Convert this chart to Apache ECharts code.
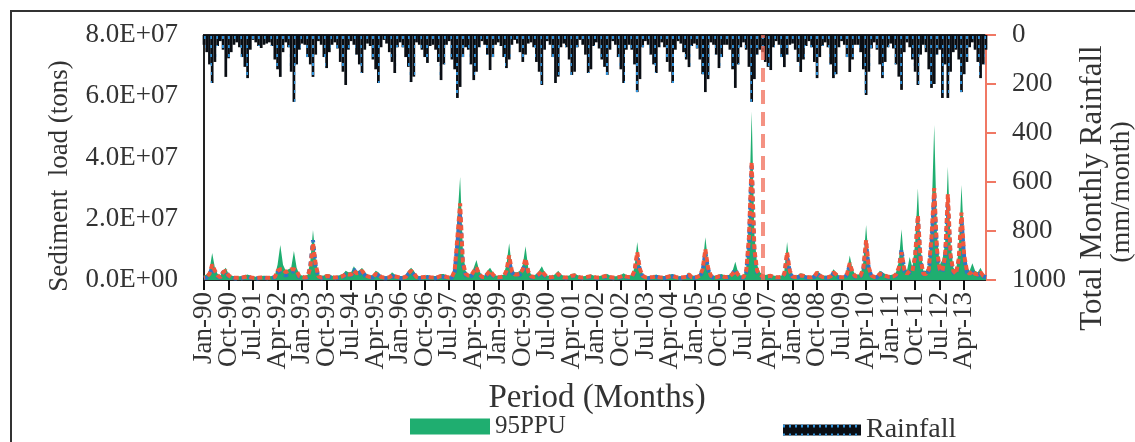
<!DOCTYPE html>
<html>
<head>
<meta charset="utf-8">
<script src="https://cdn.jsdelivr.net/npm/echarts@6/dist/echarts.min.js"></script>
<style>html,body{margin:0;padding:0;background:#fff;}#c{width:1135px;height:442px;}</style>
</head>
<body>
<div id="c"></div>
<script>
// ---- tick labels / categories ----
const MONTHS = ['Jan','Feb','Mar','Apr','May','Jun','Jul','Aug','Sep','Oct','Nov','Dec'];
const YEARS = ['90','91','92','93','94','95','96','97','98','99','00','01','02','03','04','05','06','07','08','09','10','11','12','13'];
const SED_TICKS = [0, 20, 40, 60, 80]; // million tons
const RAIN_TICKS = [0, 200, 400, 600, 800, 1000];
const LABEL_STEP = 9; // a month label every 9 months

// ---- Total monthly rainfall (mm/month), one row per year ----
const RAINFALL = [
  [40,70,120,196,110,45,25,60,171,95,70,40],
  [30,50,90,130,176,60,20,30,45,53,40,35],
  [30,45,100,140,171,70,30,50,150,273,120,60],
  [35,40,90,120,171,80,25,40,90,135,70,40],
  [30,55,110,150,204,60,25,40,80,120,155,60],
  [35,45,100,140,196,50,20,35,70,110,155,50],
  [30,50,90,130,192,170,30,40,60,90,114,45],
  [40,60,110,184,120,40,25,100,140,257,212,90],
  [50,60,120,184,150,50,25,40,80,143,90,40],
  [30,45,90,135,100,40,20,35,70,110,80,35],
  [30,50,110,150,204,60,25,40,90,196,170,50],
  [35,50,100,163,150,50,20,40,80,155,140,45],
  [30,55,100,130,163,60,25,40,90,140,196,60],
  [40,60,120,233,180,50,25,40,80,120,155,50],
  [30,50,110,150,196,60,25,35,70,100,131,45],
  [35,55,100,160,233,180,30,40,80,135,90,40],
  [40,60,140,216,120,50,30,60,130,273,180,80],
  [60,70,110,130,143,50,25,40,90,131,80,40],
  [35,60,110,151,100,45,25,50,110,176,90,45],
  [30,50,120,176,160,50,25,40,90,151,100,40],
  [40,70,140,245,150,55,30,60,120,176,110,50],
  [35,55,120,170,224,70,30,50,100,150,204,80],
  [40,70,140,216,200,80,60,257,120,257,150,70],
  [60,100,233,160,110,50,30,60,110,176,120,60]
];

// ---- 95PPU upper bound of sediment load (million tons) ----
const PPU95 = [
  [1.5,1.8,3,8.8,4,2,1.5,3,4,2,1.5,1.2],
  [1.2,1.2,1.3,1.5,1.8,1.4,1.2,1.1,1.2,1.3,1.4,1.2],
  [1.2,1.3,1.5,5,11.4,5,3,3.5,4,9.5,4,1.8],
  [1.5,1.3,1.6,6,16.3,7,2,1.4,1.5,2,1.8,1.4],
  [1.3,1.4,1.6,2,3,2.5,2.5,4.5,3,3,4,2.5],
  [1.8,1.5,1.6,3,2.5,1.5,1.2,1.2,1.3,2.5,1.8,1.4],
  [1.3,1.3,1.5,3,4,3,1.5,1.2,1.3,1.4,1.6,1.3],
  [1.3,1.3,1.5,2,2,1.5,1.2,1.5,4,20,33.6,10],
  [3,2,2,4,6.5,3,1.5,1.5,3,4,2.5,1.5],
  [1.4,1.5,1.8,5,12,4,2.5,2.5,3,5,11,4],
  [1.8,1.5,2,3,4.5,2.5,1.5,1.3,1.5,2,3,1.8],
  [1.4,1.3,1.5,2,2.2,1.6,1.3,1.2,1.3,1.6,1.8,1.5],
  [1.3,1.3,1.5,1.8,2,1.5,1.2,1.2,1.3,1.6,2.2,1.6],
  [1.5,1.6,4,12.4,5,2,1.3,1.2,1.3,1.5,1.8,1.4],
  [1.3,1.3,1.5,1.8,2,1.5,1.2,1.2,1.3,1.4,2.5,1.3],
  [1.4,1.5,2,5,14,6,2,1.4,1.4,1.8,2,1.5],
  [1.5,1.8,3,6,2.5,1.5,1.3,4,20,55,15,5],
  [2.5,1.8,1.6,1.8,2,1.5,1.3,1.3,1.5,3,12.4,4],
  [1.6,1.5,1.6,2.2,2,1.5,1.3,1.3,1.8,3,2.2,1.5],
  [1.4,1.4,1.8,3.5,2.5,1.5,1.3,1.3,3,8,3.5,1.8],
  [1.8,2,6,18,6,2,1.5,1.5,3,2.5,2,1.6],
  [1.6,1.8,2.5,6,16.6,5,3,7.5,4,12,30,10],
  [3,3,5,20,50.6,15,5,6.5,12,37,12,4],
  [3,10,31,12,4,3,5.5,3,2.5,4,2,1.5]
];

// ---- Observed sediment load (million tons) ----
const OBSERVED = [
  [0.8,1,2,5,3,1.5,0.8,2.5,3,1.5,1,0.8],
  [0.7,0.7,0.8,1,1.2,0.9,0.7,0.6,0.7,0.8,0.9,0.7],
  [0.7,0.8,1,3,3.5,3.5,2.5,3,3.5,3.5,3,1.2],
  [1,0.8,1,4,12,5,1.2,0.8,0.9,1.3,1.2,0.9],
  [0.8,0.9,1,1.3,2,1.8,1.8,3,2.2,2.3,3,1.8],
  [1.2,1,1,2,1.8,1,0.8,0.8,0.9,1.5,1.2,1],
  [0.8,0.8,1,2.2,3,2.2,1,0.8,0.9,1,1.1,0.9],
  [0.8,0.8,1,1.3,1.3,1,0.8,1,3,14,25,6],
  [2,1.5,1.5,2.8,4,2,1,1,2,3,1.8,1],
  [0.9,1,1.2,3,8,2.8,1.8,1.8,2,3.5,7,2.8],
  [1.2,1,1.3,2,3,1.8,1,0.9,1,1.4,2,1.2],
  [0.9,0.8,1,1.4,1.5,1.1,0.9,0.8,0.9,1.1,1.2,1],
  [0.8,0.8,1,1.2,1.4,1,0.8,0.8,0.9,1.1,1.5,1.1],
  [1,1,3,9,3.5,1.4,0.9,0.8,0.9,1,1.2,0.9],
  [0.8,0.8,1,1.2,1.4,1,0.8,0.8,0.9,1,1.8,0.9],
  [0.9,1,1.4,3.5,10,4,1.4,0.9,0.9,1.2,1.4,1],
  [1,1.2,2,3,1.8,1,0.9,3,14,38.5,10,3],
  [1.8,1.2,1.1,1.2,1.4,1,0.9,0.9,1,2,9,3],
  [1.1,1,1.1,1.5,1.4,1,0.9,0.9,1.2,2.5,1.5,1],
  [0.9,0.9,1.2,2.5,1.8,1,0.9,0.9,2,5.5,2.5,1.2],
  [1.2,1.4,4,13,4,1.4,1,1,2,1.8,1.4,1.1],
  [1.1,1.2,1.8,4,9,3.5,2,3,3,8,21,7],
  [2,2,3.5,14,30,10,3.5,3,8,28,8,3],
  [2,7,22,8,3,2,3,2,1.8,2.5,1.4,1]
];

// ---- Simulated sediment load (million tons) ----
const SIMULATED = [
  [0.5,0.8,1.8,4,2.5,1.2,0.6,2.5,3,1.2,0.8,0.6],
  [0.5,0.5,0.6,0.9,1.1,0.7,0.5,0.5,0.6,0.7,0.8,0.6],
  [0.6,0.7,0.8,2.5,2.5,2,1.5,2,2.5,3,2,0.9],
  [0.8,0.6,0.8,4.5,13,4.5,1,0.6,0.7,1,1,0.7],
  [0.6,0.7,0.8,1,1.8,1.5,1.5,3.5,2,2,3.2,1.5],
  [1,0.8,0.8,1.8,1.5,0.8,0.6,0.6,0.7,1.2,1,0.8],
  [0.6,0.6,0.8,2,2.5,1.8,0.8,0.6,0.7,0.8,0.9,0.7],
  [0.6,0.6,0.8,1,1,0.8,0.6,0.8,2.5,12,22,5],
  [1.6,1.2,1.2,2.5,3.5,1.8,0.8,0.8,1.8,2.5,1.5,0.8],
  [0.7,0.8,1,2.5,6,2.5,1.5,1.5,1.8,3,6,2.5],
  [1,0.8,1,1.8,2.5,1.5,0.8,0.7,0.8,1.2,1.8,1],
  [0.7,0.6,0.8,1.2,1.3,0.9,0.7,0.6,0.7,0.9,1,0.8],
  [0.6,0.6,0.8,1,1.2,0.8,0.6,0.6,0.7,0.9,1.3,0.9],
  [0.8,0.8,2.5,8,3,1.2,0.7,0.6,0.7,0.8,1,0.7],
  [0.6,0.6,0.8,1,1.2,0.8,0.6,0.6,0.7,0.8,1.5,0.7],
  [0.7,0.8,1.2,3,9,3.5,1.2,0.7,0.7,1,1.2,0.8],
  [0.8,1,2,3.5,1.5,0.8,0.7,2.5,12,38,9,2.5],
  [1.5,1,0.9,1,1.2,0.8,0.7,0.7,0.8,1.8,8,2.5],
  [0.9,0.8,0.9,1.3,1.2,0.8,0.7,0.7,1,2.2,1.3,0.8],
  [0.7,0.7,1,2.2,1.5,0.8,0.7,0.7,1.8,5,2.2,1],
  [1,1.2,3.5,12,3.5,1.2,0.8,0.8,2.5,1.5,1.2,0.9],
  [0.9,1,1.5,3.5,10,3,1.8,2.5,2.5,7,20,6],
  [1.8,1.8,3,12,28,9,3,2.5,7,25,7,2.5],
  [1.8,6,20,7,2.5,1.8,2.5,1.8,1.5,2.2,1.2,0.9]
];

const DIVIDER_MONTH = 'Feb-07'; // calibration / validation split

// ---- build ----
const categories = [];
YEARS.forEach(y => MONTHS.forEach(m => categories.push(m + '-' + y)));
const flat = a => a.reduce((r, x) => r.concat(x), []);

function sci(v) {
  const t = v * 1e6;
  if (t === 0) return '0.0E+00';
  const e = Math.floor(Math.log10(t) + 1e-9);
  const m = t / Math.pow(10, e);
  return m.toFixed(1) + 'E+' + (e < 10 ? '0' + e : e);
}

const FONT = 'Liberation Serif';
const TXT = '#333';
const chart = echarts.init(document.getElementById('c'), null, {renderer: 'canvas'});

const staticGraphics = [
  {type: 'rect', shape: {x: 11, y: 11, width: 1140, height: 445}, style: {fill: 'none', stroke: '#333', lineWidth: 2}, silent: true},
  {type: 'text', x: 60, y: 176, rotation: Math.PI / 2,
   style: {text: 'Sediment  load (tons)', fontFamily: FONT, fontSize: 27, fill: TXT, align: 'center', verticalAlign: 'middle'}},
  {type: 'text', x: 1093, y: 188, rotation: Math.PI / 2,
   style: {text: 'Total Monthly Rainfall', fontFamily: FONT, fontSize: 31, fill: TXT, align: 'center', verticalAlign: 'middle'}},
  {type: 'text', x: 1122, y: 192, rotation: Math.PI / 2,
   style: {text: '(mm/month)', fontFamily: FONT, fontSize: 28, fill: TXT, align: 'center', verticalAlign: 'middle'}},
  {type: 'text', x: 597, y: 398,
   style: {text: 'Period (Months)', fontFamily: FONT, fontSize: 33, fill: TXT, align: 'center', verticalAlign: 'middle'}}
];

chart.setOption({
  animation: false,
  backgroundColor: '#fff',
  grid: {left: 204, right: 149, top: 35, bottom: 162, show: true, borderColor: '#222', borderWidth: 2},
  legend: [
    {data: ['95PPU'], left: 405, top: 409, icon: 'rect', itemWidth: 80, itemHeight: 16, itemGap: 10,
     textStyle: {fontFamily: FONT, fontSize: 25, color: TXT}, selectedMode: false},
    {data: ['Rainfall'], left: 778, top: 411, icon: 'rect', itemWidth: 78, itemHeight: 11,
     textStyle: {fontFamily: FONT, fontSize: 28, color: TXT}, selectedMode: false}
  ],
  xAxis: {
    type: 'category', data: categories, boundaryGap: false,
    axisLine: {lineStyle: {color: '#222', width: 2}},
    axisTick: {interval: LABEL_STEP - 1, length: 10, lineStyle: {color: '#111', width: 2}},
    axisLabel: {show: false}
  },
  yAxis: [
    {type: 'value', min: SED_TICKS[0], max: SED_TICKS[SED_TICKS.length - 1], interval: SED_TICKS[1] - SED_TICKS[0],
     axisLine: {show: true, lineStyle: {color: '#222', width: 2}}, axisTick: {show: false},
     splitLine: {show: false},
     axisLabel: {formatter: sci, margin: 26, fontFamily: FONT, fontSize: 27, color: TXT}},
    {type: 'value', min: RAIN_TICKS[0], max: RAIN_TICKS[RAIN_TICKS.length - 1], interval: RAIN_TICKS[1] - RAIN_TICKS[0],
     inverse: true, position: 'right',
     axisLine: {show: true, lineStyle: {color: '#f07864', width: 2}},
     axisTick: {show: true, length: 10, lineStyle: {color: '#f07864', width: 2}},
     splitLine: {show: false},
     axisLabel: {formatter: v => String(v), margin: 26, fontFamily: FONT, fontSize: 27, color: TXT}}
  ],
  series: [
    {name: '95PPU', type: 'line', data: flat(PPU95), yAxisIndex: 0, symbol: 'none', z: 1,
     itemStyle: {color: '#1fae70'}, lineStyle: {width: 0, color: '#1fae70'},
     areaStyle: {color: '#1fae70', opacity: 1}},
    {name: 'Rainfall', type: 'bar', data: flat(RAINFALL), yAxisIndex: 1, barCategoryGap: '0%', z: 2,
     itemStyle: {color: '#0a0e14',
       decal: {symbol: 'rect', symbolSize: 1, color: '#2f92dc', dashArrayX: [2, 4], dashArrayY: [3, 6], rotation: 0}}},
    {name: 'Simulated', type: 'line', data: flat(SIMULATED), yAxisIndex: 0, symbol: 'none', z: 3,
     lineStyle: {color: '#2f74c8', width: 4, type: [4, 4]}},
    {name: 'Observed', type: 'line', data: flat(OBSERVED), yAxisIndex: 0, symbol: 'none', z: 4,
     lineStyle: {color: '#f0583c', width: 4, type: [5, 3], dashOffset: 4},
     markLine: {silent: true, symbol: 'none', label: {show: false},
       lineStyle: {color: 'rgba(240,110,90,0.75)', width: 4, type: [14, 8]},
       data: [{xAxis: DIVIDER_MONTH}]}}
  ],
  graphic: staticGraphics
});

// month tick labels, placed through the category axis scale
const labelGraphics = [];
for (let i = 0; i < categories.length; i += LABEL_STEP) {
  const p = chart.convertToPixel({xAxisIndex: 0, yAxisIndex: 0}, [i, 0]);
  labelGraphics.push({type: 'text', x: p[0], y: p[1] + 12, rotation: Math.PI / 2, silent: true,
    style: {text: categories[i], fontFamily: FONT, fontSize: 27, fill: TXT, align: 'right', verticalAlign: 'middle'}});
}
chart.setOption({graphic: staticGraphics.concat(labelGraphics)});
</script>
</body>
</html>
